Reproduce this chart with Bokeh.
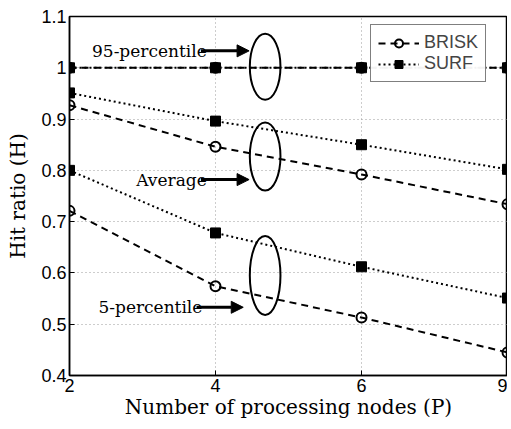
from bokeh.plotting import figure
from bokeh.models import Label, Arrow, NormalHead, Legend, LegendItem, FixedTicker, Range1d
from bokeh.embed import file_html
from bokeh.resources import INLINE

nodes = ["2", "4", "6", "9"]
brisk_95 = [1.0, 1.0, 1.0, 1.0]
surf_95 = [1.0, 1.0, 1.0, 1.0]
brisk_avg = [0.927, 0.846, 0.792, 0.734]
surf_avg = [0.951, 0.896, 0.850, 0.802]
brisk_5 = [0.721, 0.574, 0.513, 0.445]
surf_5 = [0.800, 0.678, 0.612, 0.551]
y_ticks = [0.4, 0.5, 0.6, 0.7, 0.8, 0.9, 1.0, 1.1]
y_tick_labels = ["0.4", "0.5", "0.6", "0.7", "0.8", "0.9", "1", "1.1"]

x = list(range(len(nodes)))

SERIF = "DejaVu Serif"
SANS = "Liberation Sans"

p = figure(width=507, height=421, output_backend="svg", toolbar_location=None,
           x_range=Range1d(0, len(nodes) - 1), y_range=Range1d(0.4, 1.1),
           min_border_left=69, min_border_right=0, min_border_top=16, min_border_bottom=42)
p.background_fill_color = "white"
p.border_fill_color = "white"
p.outline_line_color = "black"
p.outline_line_width = 1.5

p.xaxis.ticker = FixedTicker(ticks=x)
p.xaxis.major_label_overrides = {i: n for i, n in enumerate(nodes)}
p.yaxis.ticker = FixedTicker(ticks=y_ticks)
p.yaxis.major_label_overrides = {t: l for t, l in zip(y_ticks, y_tick_labels)}
for ax in (p.xaxis, p.yaxis):
    ax.major_label_text_font = SANS
    ax.major_label_text_font_size = "18px"
    ax.major_label_text_color = "black"
    ax.axis_line_color = "black"
    ax.axis_line_width = 1.5
    ax.major_tick_in = 5
    ax.major_tick_out = 0
    ax.minor_tick_line_color = None
    ax.axis_label_text_font = SERIF
    ax.axis_label_text_font_style = "normal"
    ax.axis_label_text_font_size = "20px"
    ax.axis_label_text_color = "black"
p.xaxis.axis_label = "Number of processing nodes (P)"
p.yaxis.axis_label = "Hit ratio (H)"
p.xaxis.axis_label_standoff = 0
p.yaxis.axis_label_standoff = 8
p.xaxis.major_label_standoff = 3
p.yaxis.major_label_standoff = 3

p.grid.grid_line_color = "#9a9a9a"
p.grid.grid_line_dash = "1 3"
p.grid.grid_line_width = 1

DASH = "7 5"
DOT = "2 3"

r_b = []
r_s = []
for yv in (brisk_95, brisk_avg, brisk_5):
    r_b.append(p.line(x, yv, line_color="black", line_width=2, line_dash=DASH))
for yv in (surf_95, surf_avg, surf_5):
    r_s.append(p.line(x, yv, line_color="black", line_width=2, line_dash=DOT))
for yv in (brisk_95, brisk_avg, brisk_5):
    r_b.append(p.scatter(x, yv, marker="circle", size=10, fill_color=None,
                         line_color="black", line_width=2))
for yv in (surf_95, surf_avg, surf_5):
    r_s.append(p.scatter(x, yv, marker="square", size=10, fill_color="black",
                         line_color="black", line_width=1))

# ellipses grouping the curves
ell_x = [1.34, 1.34, 1.34]
ell_y = [1.002, 0.827, 0.595]
ell_h = [0.129, 0.133, 0.154]
p.ellipse(ell_x, ell_y, width=0.21, height=ell_h, fill_color=None,
          line_color="black", line_width=2)

labels = ["95-percentile", "Average", "5-percentile"]
lab_x = [0.94, 0.94, 0.91]
lab_y = [1.033, 0.782, 0.533]
arr_end = [1.23, 1.23, 1.19]
for t, lx, ly, ae in zip(labels, lab_x, lab_y, arr_end):
    p.add_layout(Label(x=lx, y=ly, text=t, text_align="right", text_baseline="middle",
                       text_font=SERIF, text_font_size="17px", text_color="black"))
    p.add_layout(Arrow(x_start=lx - 0.04, y_start=ly, x_end=ae, y_end=ly,
                       line_color="black", line_width=3,
                       end=NormalHead(size=12, fill_color="black", line_color="black")))

legend = Legend(items=[LegendItem(label="BRISK", renderers=[r_b[1], r_b[4]]),
                       LegendItem(label="SURF", renderers=[r_s[1], r_s[4]])],
                location=(301, 293))
legend.label_text_font = SANS
legend.label_text_font_size = "18px"
legend.border_line_color = "black"
legend.border_line_width = 1.5
legend.glyph_width = 41
legend.glyph_height = 20
legend.label_height = 20
legend.spacing = 0
legend.padding = 7
legend.margin = 0
legend.label_standoff = 5
p.add_layout(legend)

open("out.html", "w").write(file_html(p, INLINE))
